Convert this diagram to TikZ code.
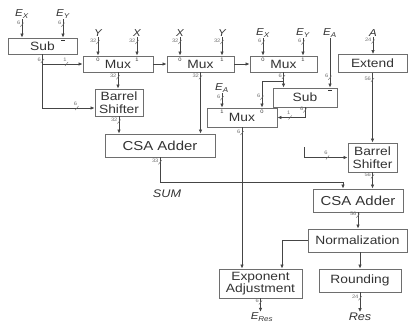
\documentclass[tikz,border=0pt]{standalone}
\usepackage{fontspec}
\setmainfont{Liberation Sans}[FakeStretch=1.15]
\usepackage{tikz}
\usetikzlibrary{arrows.meta,calc}
\definecolor{wirec}{HTML}{454545}
\definecolor{framec}{HTML}{6E6E6E}
\definecolor{inkc}{HTML}{333333}
\newcommand{\sgn}[2]{\textit{#1}\textsubscript{\textit{#2}}}

\begin{document}
\begin{tikzpicture}[x=1pt, y=-1pt,
    box/.style={draw=framec, line width=0.9pt, inner sep=0pt, align=center, text=inkc, font=\fontsize{12}{12.5}\selectfont},
    arr/.style={-{Latex[length=4pt,width=3.6pt]}, draw=wirec, line width=0.8pt},
    sig/.style={font=\fontsize{10}{10}\selectfont\itshape, text=inkc, inner sep=0.8pt},
    sel/.style={font=\fontsize{5}{5}\selectfont, text=inkc, inner sep=0pt},
    bwtxt/.style={font=\fontsize{5}{5}\selectfont, text=black!55, inner sep=0pt},
    pics/bw/.style={code={\draw[-, black!60, line width=0.4pt] (-1.6pt,-2pt) -- (1.6pt,2pt);
        \node[bwtxt, anchor=east] at (-1.2pt,1.5pt) {#1};}},
    pics/bwh/.style={code={\draw[-, black!60, line width=0.4pt] (-1.6pt,-2pt) -- (1.6pt,2pt);
        \node[bwtxt, anchor=south] at (-1.5pt,2.2pt) {#1};}},
    minus/.style={fill=inkc, inner sep=0pt, minimum width=4pt, minimum height=1.4pt}
]
\useasboundingbox (0,0) rectangle (409,325);

% blocks
\node[box, minimum width=69pt, minimum height=16pt] (sub1) at (42.5,46) {Sub};
\node[box, minimum width=70pt, minimum height=16pt] (mux1) at (118,64) {Mux};
\node[box, minimum width=67pt, minimum height=16pt] (mux2) at (200.5,64) {Mux};
\node[box, minimum width=67pt, minimum height=16pt] (mux3) at (283.5,64) {Mux};
\node[box, minimum width=69pt, minimum height=18pt] (ext) at (372.5,63.5) {Extend};
\node[box, minimum width=48pt, minimum height=27pt] (bsh1) at (119,102.5) {Barrel\\Shifter};
\node[box, minimum width=64pt, minimum height=19pt] (sub2) at (305,97.5) {Sub};
\node[box, minimum width=70pt, minimum height=19pt] (mux4) at (242,117.5) {Mux};
\node[box, minimum width=110pt, minimum height=23pt, font=\fontsize{13}{13}\selectfont] (csa1) at (160,145.5) {CSA Adder};
\node[box, minimum width=49pt, minimum height=29pt] (bsh2) at (372.5,157.5) {Barrel\\Shifter};
\node[box, minimum width=90pt, minimum height=23pt, font=\fontsize{13}{13}\selectfont] (csa2) at (358,200.5) {CSA Adder};
\node[box, minimum width=99pt, minimum height=23pt] (norm) at (357.5,240.5) {Normalization};
\node[box, minimum width=82pt, minimum height=23pt] (rnd) at (360,280.5) {Rounding};
\node[box, minimum width=83pt, minimum height=29pt] (expadj) at (260.5,283.5) {Exponent\\Adjustment};

% inputs and outputs
\node[sig] (ex1) at (22,14) {\sgn{E}{X}};
\node[sig] (ey1) at (63,14) {\sgn{E}{Y}};
\node[sig] (y1) at (98,33) {Y};
\node[sig] (x1) at (137,33) {X};
\node[sig] (x2) at (180,33) {X};
\node[sig] (y2) at (222,33) {Y};
\node[sig] (ex3) at (263,33) {\sgn{E}{X}};
\node[sig] (ey3) at (303,33) {\sgn{E}{Y}};
\node[sig] (ea1) at (330,33) {\sgn{E}{A}};
\node[sig] (a1) at (373,33) {A};
\node[sig] (ea2) at (222,88) {\sgn{E}{A}};
\node[sig, font=\fontsize{11}{11}\selectfont\itshape] (sum) at (167,194) {SUM};
\node[sig, font=\fontsize{11}{11}\selectfont\itshape] (res) at (360,317) {Res};
\node[sig, font=\fontsize{10}{10}\selectfont\itshape] (eres) at (262,317) {\sgn{E}{Res}};

% select and sign marks
\node[sel] (m1a) at ($(y1 |- mux1.north)+(0,4)$) {0};
\node[sel] (m1b) at ($(x1 |- mux1.north)+(0,4)$) {1};
\node[sel] (m2a) at ($(x2 |- mux2.north)+(0,4)$) {0};
\node[sel] (m2b) at ($(y2 |- mux2.north)+(0,4)$) {1};
\node[sel] (m3a) at ($(ex3 |- mux3.north)+(0,4)$) {0};
\node[sel] (m3b) at ($(ey3 |- mux3.north)+(0,4)$) {1};
\node[sel] (m4a) at ($(ea2 |- mux4.north)+(0,4)$) {1};
\node[sel] (m4b) at ($(mux4.north)+(20,4)$) {0};
\node[minus] (sub1m) at ($(ey1 |- sub1.north)+(0,3)$) {};
\node[minus] (sub2m) at ($(ea1 |- sub2.north)+(0,3)$) {};

\coordinate (br3) at ($(mux3.south)+(0,9)$);
\coordinate (m4in0) at ($(mux4.north)+(20,0)$);
\coordinate (bsin) at (304,147);
\coordinate (sumc) at (343,182);

% wires
\draw[arr] (ex1) -- (ex1 |- sub1.north) pic[pos=.3]{bw=6};
\draw[arr] (ey1) -- (ey1 |- sub1.north) pic[pos=.3]{bw=6};
\draw[arr] (sub1.south) |- ($(bsh1.west)+(0,5.5)$) pic[pos=.06]{bw=6} pic[pos=.83]{bwh=6};
\draw[arr] (sub1.south |- mux1.west) -- (mux1.west) pic[pos=.6]{bwh=1};
\draw[arr] (y1) -- (y1 |- mux1.north) pic[pos=.25]{bw=32};
\draw[arr] (x1) -- (x1 |- mux1.north) pic[pos=.25]{bw=32};
\draw[arr] (x2) -- (x2 |- mux2.north) pic[pos=.25]{bw=32};
\draw[arr] (y2) -- (y2 |- mux2.north) pic[pos=.25]{bw=32};
\draw[arr] (ex3) -- (ex3 |- mux3.north) pic[pos=.25]{bw=6};
\draw[arr] (ey3) -- (ey3 |- mux3.north) pic[pos=.25]{bw=6};
\draw[arr] (mux1) -- (mux2);
\draw[arr] (mux2) -- (mux3);
\draw[arr] (mux1.south) -- (mux1.south |- bsh1.north) pic[pos=.3]{bw=32};
\draw[arr] (bsh1.south) -- (bsh1.south |- csa1.north) pic[pos=.3]{bw=32};
\draw[arr] (mux2.south) -- (mux2.south |- csa1.north) pic[pos=.08]{bw=32};
\draw[arr] (mux3.south) -- (mux3.south |- sub2.north) pic[pos=.3]{bw=6};
\draw[arr] (br3) -| (m4in0) pic[pos=.81]{bw=6};
\draw[arr] (ea1) -- (ea1 |- sub2.north) pic[pos=.8]{bw=6};
\draw[arr] (ea2) -- (ea2 |- mux4.north) pic[pos=.35]{bw=6};
\draw[arr] (sub2.south) |- (mux4.east) pic[pos=.15]{bw=6} pic[pos=.77]{bwh=1};
\draw[arr] (mux4.south) -- (mux4.south |- expadj.north) pic[pos=.04]{bw=6};
\draw[arr] (a1) -- (a1 |- ext.north) pic[pos=.25]{bw=24};
\draw[arr] (ext.south) -- (ext.south |- bsh2.north) pic[pos=.1]{bw=56};
\draw[arr] (bsin) |- (bsh2.west) pic[pos=.77]{bwh=6};
\draw[arr] (bsh2.south) -- (bsh2.south |- csa2.north) pic[pos=.25]{bw=56};
\draw[arr] (csa1.south) |- (sumc) pic[pos=.1]{bw=33} -- (sumc |- csa2.north);
\draw[arr] (csa2.south) -- (csa2.south |- norm.north) pic[pos=.2]{bw=56};
\draw[arr] (rnd.north |- norm.south) -- (rnd.north);
\draw[arr] (norm.west) -| ($(expadj.north)+(21.5,0)$);
\draw[arr] (rnd.south) -- (rnd.south |- res.north) pic[pos=.3]{bw=24};
\draw[arr] (expadj.south) -- (expadj.south |- eres.north) pic[pos=.3]{bw=6};
\end{tikzpicture}
\end{document}
